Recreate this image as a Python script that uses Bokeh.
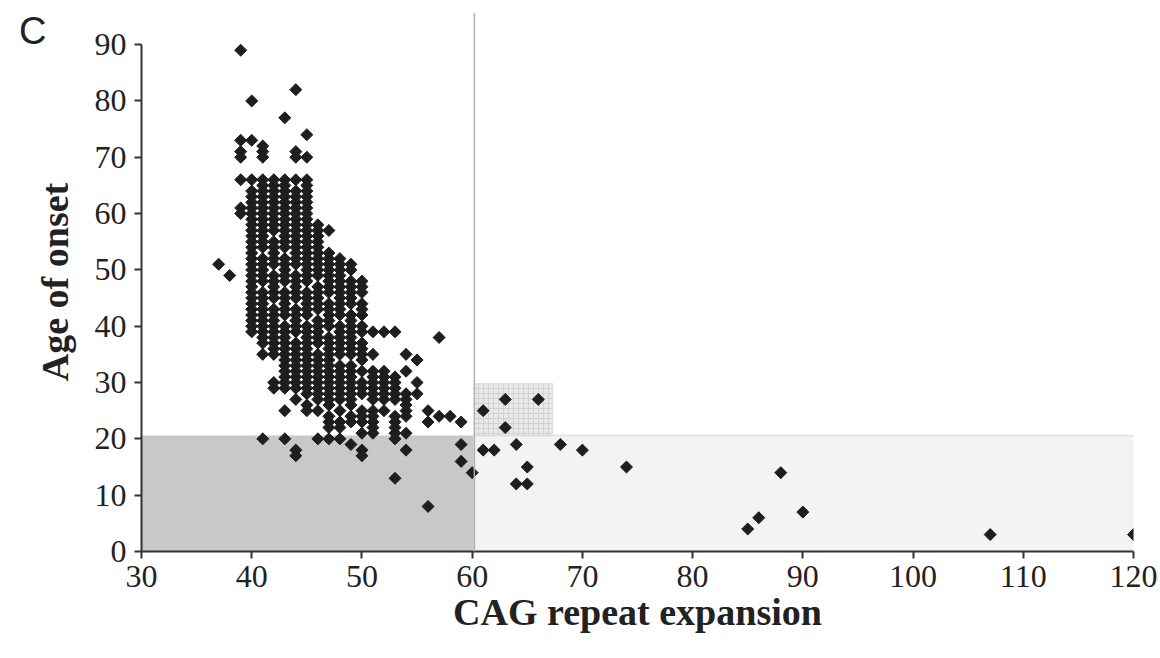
from bokeh.plotting import figure
from bokeh.models import Range1d, Span, FixedTicker, LinearAxis
from bokeh.embed import file_html
from bokeh.resources import INLINE

# ---- data: age of onset per CAG repeat length ----
c37 = [51]
c38 = [49]
c39 = [89, 73, 71, 70, 66, 61, 60]
c40 = [80, 73, 66, 64, 63, 62, 61, 60, 59, 58, 57, 56, 55, 54, 53, 52, 51, 50, 49,
       48, 47, 46, 45, 44, 43, 42, 41, 40, 39]
c41 = [72, 71, 70, 66, 65, 64, 63, 62, 61, 60, 59, 58, 57, 56, 55, 54, 52, 51, 50,
       49, 48, 46, 45, 44, 43, 42, 41, 40, 39, 38, 37, 35, 20]
c42 = [66, 65, 64, 63, 62, 61, 60, 59, 58, 57, 55, 54, 53, 52, 51, 49, 48, 47,
       46, 45, 43, 42, 41, 40, 39, 38, 37, 36, 35, 30, 29]
c43 = [77, 66, 65, 64, 63, 62, 61, 60, 59, 58, 57, 56, 55, 54, 52, 51, 50, 49, 48,
       46, 45, 44, 43, 42, 40, 39, 38, 37, 36, 35, 34, 33, 32, 31, 30, 29, 25, 20]
c44 = [82, 71, 70, 66, 64, 63, 62, 61, 60, 59, 58, 57, 56, 55, 54, 53, 52, 51, 49,
       48, 47, 46, 45, 43, 42, 41, 40, 39, 37, 36, 35, 34, 33, 32, 31, 30, 29,
       27, 18, 17]
c45 = [74, 70, 66, 65, 64, 63, 62, 61, 60, 59, 58, 57, 56, 55, 54, 53, 52, 51, 50, 49,
       48, 46, 45, 44, 43, 42, 40, 39, 38, 37, 36, 35, 34, 33, 32, 31, 30, 29,
       28, 26, 25]
c46 = [58, 57, 56, 55, 54, 53, 52, 51, 50, 49, 47, 46, 45, 44, 43, 41, 40, 39,
       38, 37, 35, 34, 33, 32, 31, 30, 29, 28, 27, 25, 20]
c47 = [57, 53, 52, 51, 50, 49, 48, 47, 46, 44, 43, 42, 41, 40, 38, 37, 36, 35,
       34, 33, 32, 31, 30, 29, 28, 27, 26, 24, 23, 22, 20]
c48 = [52, 51, 50, 49, 48, 47, 46, 45, 44, 43, 42, 40, 39, 38, 37, 36, 35, 33,
       32, 31, 30, 29, 28, 27, 25, 23, 22, 20]
c49 = [51, 50, 48, 47, 46, 45, 44, 42, 41, 40, 39, 38, 37, 36, 35, 33, 32, 31, 30, 29,
       28, 27, 26, 24, 23, 19]
c50 = [48, 47, 46, 44, 43, 42, 40, 39, 37, 36, 35, 34, 32, 30, 29, 28, 25, 24, 23, 21,
       18, 17]
c51 = [39, 35, 32, 31, 30, 29, 28, 27, 25, 24, 23, 22, 21]
c52 = [39, 32, 31, 30, 29, 28, 27, 25]
c53 = [39, 31, 30, 29, 28, 27, 24, 23, 22, 21, 20, 13]
c54 = [35, 32, 28, 27, 26, 25, 24, 21, 18]
c55 = [34, 30, 28]
c56 = [25, 23, 8]
c57 = [38, 24]
c58 = [24]
c59 = [23, 19, 16]
c60 = [14]
c61 = [25, 18]
c62 = [18]
c63 = [27, 22]
c64 = [19, 12]
c65 = [15, 12]
c66 = [27]
c68 = [19]
c70 = [18]
c74 = [15]
c85 = [4]
c86 = [6]
c88 = [14]
c90 = [7]
c107 = [3]
c120 = [3]

columns = {37: c37, 38: c38, 39: c39, 40: c40, 41: c41, 42: c42, 43: c43, 44: c44,
           45: c45, 46: c46, 47: c47, 48: c48, 49: c49, 50: c50, 51: c51, 52: c52,
           53: c53, 54: c54, 55: c55, 56: c56, 57: c57, 58: c58, 59: c59, 60: c60,
           61: c61, 62: c62, 63: c63, 64: c64, 65: c65, 66: c66, 68: c68, 70: c70,
           74: c74, 85: c85, 86: c86, 88: c88, 90: c90, 107: c107, 120: c120}

cag = []
age = []
for k, ages in columns.items():
    for a in ages:
        cag.append(k)
        age.append(a)

x_ticks = [30, 40, 50, 60, 70, 80, 90, 100, 110, 120]
y_ticks = [0, 10, 20, 30, 40, 50, 60, 70, 80, 90]

# shaded zones (CAG / age thresholds)
zone_left = [30, 60.2, 60.2]
zone_right = [60.2, 120.5, 67.3]
zone_bottom = [0, 0, 20.6]
zone_top = [20.6, 20.6, 29.8]
cutoff_cag = 60.2

panel_letter = "C"
panel_letter_y = 92.5

serif = "Liberation Serif"

p = figure(width=1158, height=656, output_backend="svg", toolbar_location=None,
           x_range=Range1d(30, 120), y_range=Range1d(0, 95.7),
           min_border_left=141, min_border_right=25, min_border_top=12,
           min_border_bottom=105)
p.outline_line_color = None
p.grid.visible = False
p.background_fill_color = "white"

# zones
p.quad(left=zone_left[:1], right=zone_right[:1], bottom=zone_bottom[:1], top=zone_top[:1],
       fill_color="#c8c8c8", line_color=None)
p.quad(left=zone_left[1:2], right=zone_right[1:2], bottom=zone_bottom[1:2], top=zone_top[1:2],
       fill_color="#f3f3f3", line_color="#e6e6e6", line_width=2)
p.quad(left=zone_left[2:], right=zone_right[2:], bottom=zone_bottom[2:], top=zone_top[2:],
       fill_color="#e9e9e9", line_color="#dadada", hatch_pattern="+",
       hatch_color="#d2d2d2", hatch_scale=5, hatch_weight=1)

p.add_layout(Span(location=cutoff_cag, dimension="height", line_color="#b0b0b0",
                  line_width=1.5))

p.scatter(cag, age, marker="square", angle=45, angle_units="deg", size=8.5,
          fill_color="#1e1e1e", line_color="#1e1e1e", line_width=1)

for ax in (p.xaxis[0], p.yaxis[0]):
    ax.axis_line_color = "#333333"
    ax.axis_line_width = 2
    ax.major_tick_line_color = "#333333"
    ax.major_tick_line_width = 2
    ax.major_tick_out = 7
    ax.major_tick_in = 0
    ax.minor_tick_line_color = None
    ax.major_label_text_font = serif
    ax.major_label_text_font_size = "32px"
    ax.major_label_text_color = "#222222"
    ax.axis_label_text_font = serif
    ax.axis_label_text_font_style = "bold"
    ax.axis_label_text_font_size = "38px"
    ax.axis_label_text_color = "#222222"

p.xaxis.ticker = FixedTicker(ticks=x_ticks)
p.yaxis.ticker = FixedTicker(ticks=y_ticks)
p.yaxis.bounds = (0, 90)
p.xaxis.axis_label = "CAG repeat expansion"
p.yaxis.axis_label = "Age of onset"
p.xaxis.major_label_standoff = 7
p.xaxis.axis_label_standoff = 1
p.yaxis.major_label_standoff = 8
p.yaxis.axis_label_standoff = 16

# panel letter "C", drawn as the only label of an outer, invisible left axis
letter_axis = LinearAxis(ticker=FixedTicker(ticks=[panel_letter_y]),
                         major_label_overrides={panel_letter_y: panel_letter},
                         axis_line_color=None, major_tick_line_color=None,
                         minor_tick_line_color=None, major_tick_out=0, major_tick_in=0,
                         major_label_standoff=-16,
                         major_label_text_font="Liberation Sans",
                         major_label_text_font_size="38px",
                         major_label_text_color="#222222")
p.add_layout(letter_axis, "left")

open("out.html", "w").write(file_html(p, INLINE))
